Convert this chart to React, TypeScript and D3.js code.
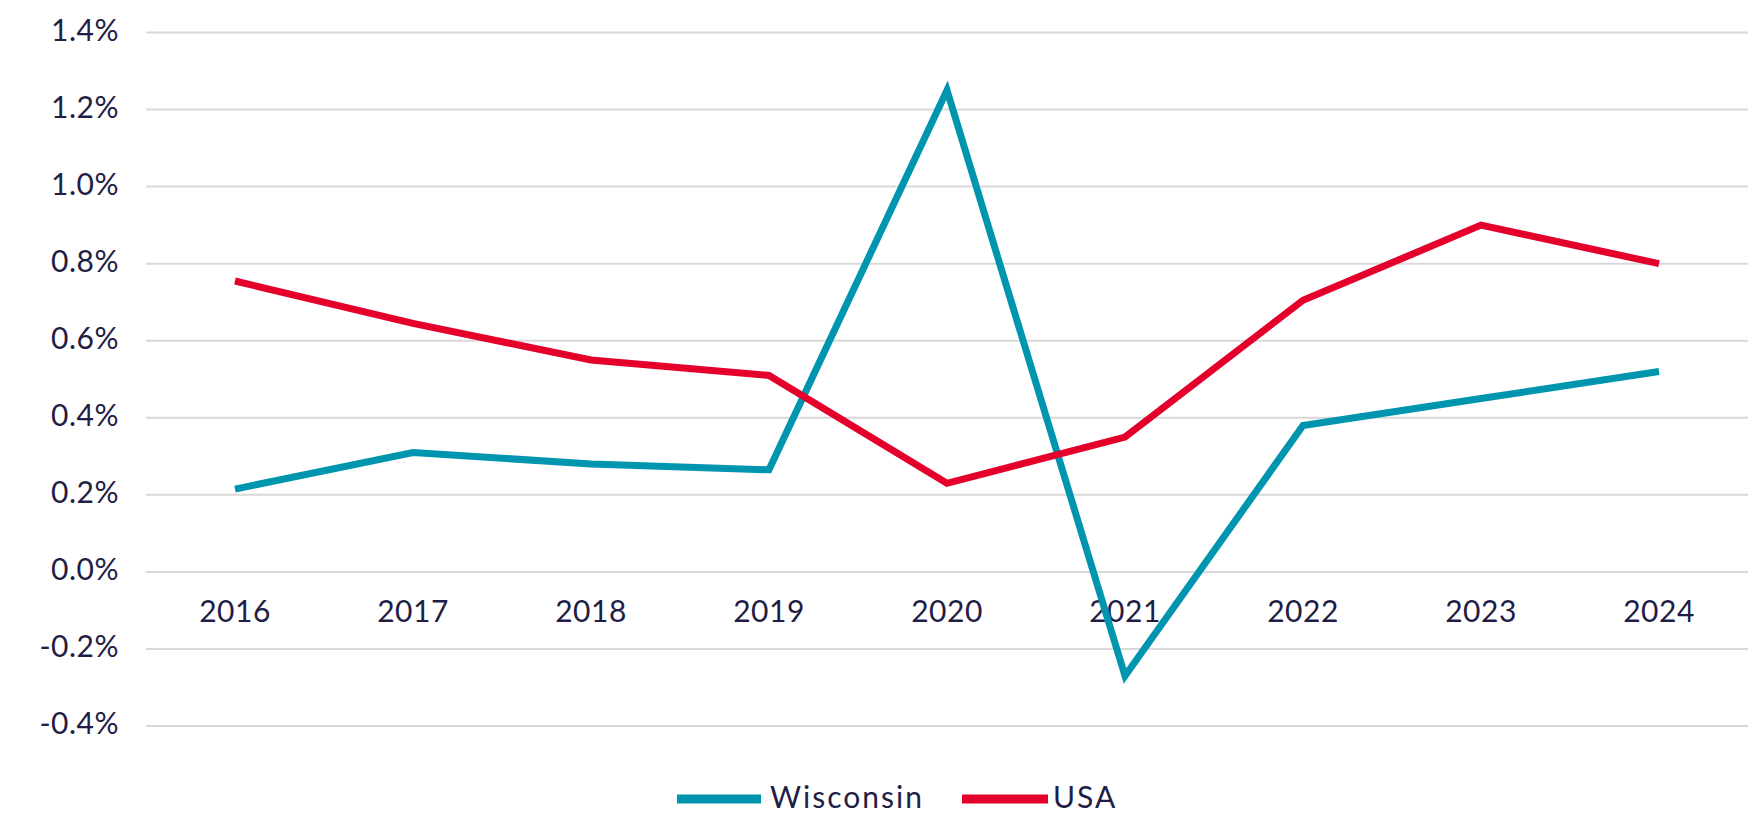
import React from "react";
import * as d3 from "d3";

const years = ["2016", "2017", "2018", "2019", "2020", "2021", "2022", "2023", "2024"];
const wisconsin = [0.215, 0.31, 0.28, 0.265, 1.25, -0.27, 0.38, 0.45, 0.52];
const usa = [0.755, 0.645, 0.55, 0.51, 0.23, 0.35, 0.705, 0.9, 0.8];
const yTicks = [-0.4, -0.2, 0, 0.2, 0.4, 0.6, 0.8, 1.0, 1.2, 1.4];

const series = [
  { name: "Wisconsin", values: wisconsin, color: "#0095ae" },
  { name: "USA", values: usa, color: "#e4002b" },
];

const W = 1760;
const H = 816;
const font = "Lato, 'Noto Sans', sans-serif";
const textColor = "#221d45";

export default function App() {
  const x = d3.scaleBand<string>().domain(years).range([146, 1748]);
  const y = d3.scaleLinear().domain([-0.4, 1.4]).range([726, 32.5]);
  const cx = (d: string) => (x(d) ?? 0) + x.bandwidth() / 2;

  const line = d3
    .line<number>()
    .x((_, i) => cx(years[i]))
    .y((v) => y(v));

  // legend layout
  const legend = [
    { x: 677, len: 84, textX: 770 },
    { x: 962, len: 86, textX: 1053 },
  ];
  const legendY = 799;

  return (
    <svg
      width={W}
      height={H}
      style={{ position: "absolute", left: 0, top: 0, background: "#fff" }}
    >
      {/* grid + y labels */}
      {yTicks.map((t) => (
        <g key={t}>
          <line
            x1={146}
            x2={1748}
            y1={y(t)}
            y2={y(t)}
            stroke="#d9d9d9"
            strokeWidth={2}
          />
          <text
            x={119}
            y={y(t) + 8}
            textAnchor="end"
            fontFamily={font}
            fontSize={30}
            fill={textColor}
            letterSpacing={0.5}
          >
            {t.toFixed(1) + "%"}
          </text>
        </g>
      ))}

      {/* year labels */}
      {years.map((yr) => (
        <text
          key={yr}
          x={cx(yr)}
          y={622}
          textAnchor="middle"
          fontFamily={font}
          fontSize={30}
          fill={textColor}
          letterSpacing={0.5}
        >
          {yr}
        </text>
      ))}

      {/* lines */}
      {series.map((s) => (
        <path
          key={s.name}
          d={line(s.values) ?? ""}
          fill="none"
          stroke={s.color}
          strokeWidth={7}
          strokeLinejoin="miter"
        />
      ))}

      {/* legend */}
      {series.map((s, i) => (
        <g key={s.name}>
          <line
            x1={legend[i].x}
            x2={legend[i].x + legend[i].len}
            y1={legendY}
            y2={legendY}
            stroke={s.color}
            strokeWidth={9}
          />
          <text
            x={legend[i].textX}
            y={legendY + 9}
            fontFamily={font}
            fontSize={30}
            fill={textColor}
            letterSpacing={2}
          >
            {s.name}
          </text>
        </g>
      ))}
    </svg>
  );
}
